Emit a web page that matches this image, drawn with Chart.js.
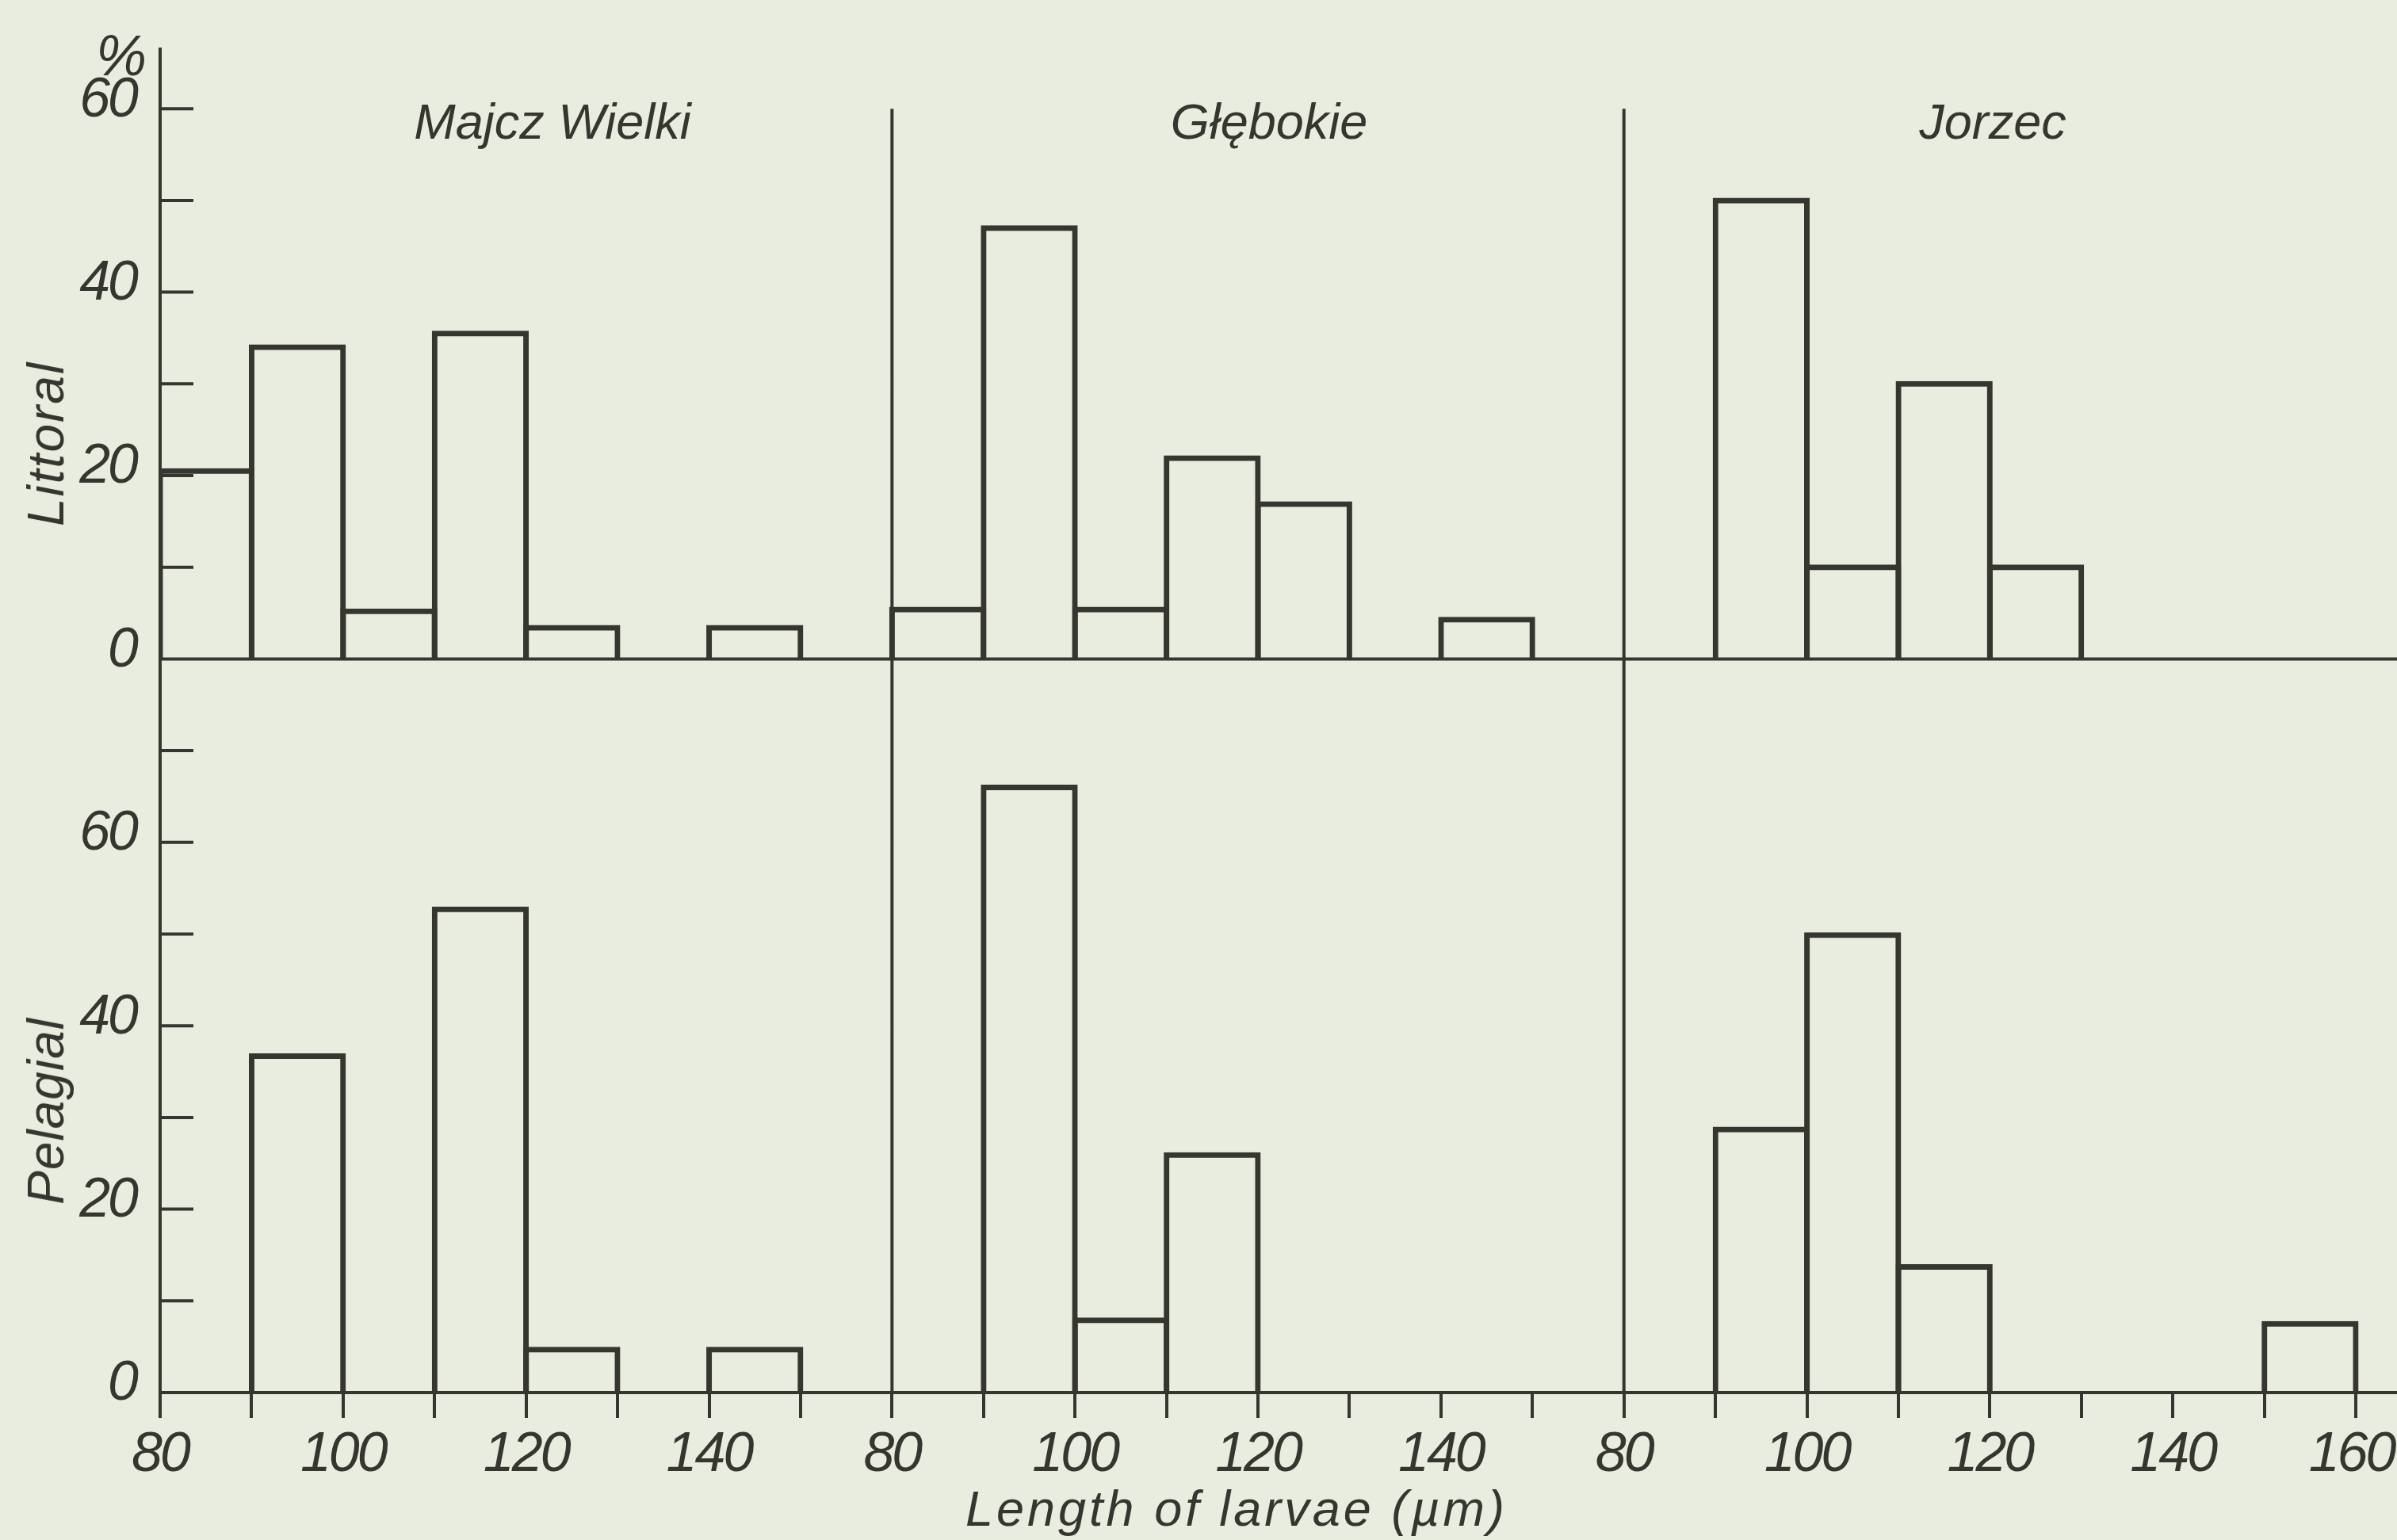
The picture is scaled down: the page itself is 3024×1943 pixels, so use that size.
<!DOCTYPE html>
<html>
<head>
<meta charset="utf-8">
<title>Length of larvae</title>
<script src="https://cdn.jsdelivr.net/npm/chart.js@4.4.1/dist/chart.umd.min.js"></script>
<style>
  html, body { margin: 0; padding: 0; background: #e9eddf; }
  #wrap { position: relative; width: 3024px; height: 1943px; overflow: hidden; }
  #larvaeChart { position: absolute; left: 0; top: 0; }
  .lbl {
    position: absolute; white-space: nowrap; line-height: 1;
    font-family: 'Liberation Sans', Arial, sans-serif; font-style: italic;
    color: #35362f;
  }
</style>
</head>
<body>
<div id="wrap">
  <canvas id="larvaeChart" width="3024" height="1943"></canvas>
  <div class="lbl" style="font-size:72px; left:153px; top:34px; transform:translateX(-50%);">%</div>
  <div class="lbl" style="font-size:63px; left:697px; top:122px; transform:translateX(-50%);">Majcz Wielki</div>
  <div class="lbl" style="font-size:63px; left:1601px; top:122px; transform:translateX(-50%);">Głębokie</div>
  <div class="lbl" style="font-size:63px; left:2514px; top:122px; transform:translateX(-50%);">Jorzec</div>
  <div class="lbl" style="font-size:64px; letter-spacing:2px; left:58px; top:560px; transform:translate(-50%,-50%) rotate(-90deg);">Littoral</div>
  <div class="lbl" style="font-size:64px; letter-spacing:1px; left:58px; top:1402px; transform:translate(-50%,-50%) rotate(-90deg);">Pelagial</div>
  <div class="lbl" style="font-size:63px; letter-spacing:4px; left:1560px; top:1872px; transform:translateX(-50%);">Length of larvae (µm)</div>
</div>

<script>
// 幼生の体長分布 (%)  -- 10 µm 階級, 80-160 µm
const binStarts = [80, 90, 100, 110, 120, 130, 140, 150];
const lakes = ['Majcz Wielki', 'Głębokie', 'Jorzec'];

const majczLittoral    = [20.8, 34.3, 5.5, 35.8, 3.7, 0, 3.7, 0];
const majczPelagial    = [0, 37, 0, 53, 5, 0, 5, 0];
const glebokieLittoral = [5.7, 47.3, 5.7, 22.2, 17.2, 0, 4.6, 0];
const glebokiePelagial = [0, 66.3, 8.2, 26.2, 0, 0, 0, 0];
const jorzecLittoral   = [0, 50.3, 10.3, 30.3, 10.3, 0, 0, 0];
const jorzecPelagial   = [0, 29, 50.2, 14, 0, 0, 0, 7.8];

const littoralByLake = [majczLittoral, glebokieLittoral, jorzecLittoral];
const pelagialByLake = [majczPelagial, glebokiePelagial, jorzecPelagial];

const ink = '#35362f';
const panelSpan = 80;   // each lake panel covers 80-160 µm on one shared x scale
const topBase = 80;     // littoral row sits above the pelagial row on the y scale

// build bar points for one row
const buildPoints = (rows, base) => {
  const pts = [];
  rows.forEach((vals, i) => {
    vals.forEach((v, j) => {
      if (!v) return;
      const x = binStarts[j] + 5 + panelSpan * i;
      pts.push({ x: x, y: base ? [base, base + v] : v });
    });
  });
  return pts;
};

// bar look (outline only, like the drawing)
const barStyle = {
  grouped: false,
  categoryPercentage: 1,
  barPercentage: 1.06,
  inflateAmount: 0,
  borderWidth: 7,
  borderColor: ink,
  backgroundColor: 'rgba(0,0,0,0)',
};

// y ticks inside the axis, panel separators and the upper baseline
const frameLines = {
  id: 'frameLines',
  beforeDraw(chart) {
    // slightly tighter digits, like the stencil lettering
    chart.ctx.letterSpacing = '-3px';
  },
  beforeDatasetsDraw(chart) {
    const { ctx, chartArea, scales } = chart;
    const x = scales.x, y = scales.y;
    ctx.save();
    ctx.strokeStyle = ink;
    ctx.lineWidth = 4;
    ctx.beginPath();
    y.ticks.forEach((t) => {
      if (t.value % topBase === 0) return;
      const py = y.getPixelForValue(t.value);
      ctx.moveTo(chartArea.left, py);
      ctx.lineTo(chartArea.left + 42, py);
    });
    const by = y.getPixelForValue(topBase);
    ctx.moveTo(chartArea.left, by);
    ctx.lineTo(chartArea.right, by);
    [1, 2].forEach((i) => {
      const px = x.getPixelForValue(80 + panelSpan * i);
      ctx.moveTo(px, y.getPixelForValue(0));
      ctx.lineTo(px, y.getPixelForValue(topBase + 60));
    });
    ctx.stroke();
    ctx.restore();
  },
  afterDraw(chart) {
    chart.ctx.letterSpacing = '0px';
  }
};

const tickFont = { family: "'Liberation Sans', Arial, sans-serif", style: 'italic', size: 70 };

new Chart(document.getElementById('larvaeChart'), {
  type: 'bar',
  data: {
    datasets: [
      Object.assign({ label: 'Littoral', data: buildPoints(littoralByLake, topBase) }, barStyle),
      Object.assign({ label: 'Pelagial', data: buildPoints(pelagialByLake, 0) }, barStyle),
    ],
  },
  options: {
    responsive: false,
    animation: false,
    devicePixelRatio: 1,
    layout: { padding: { top: 62, right: 0, bottom: 0, left: 0 } },
    plugins: {
      legend: { display: false },
      tooltip: { enabled: false },
      colors: { enabled: false },
    },
    scales: {
      x: {
        type: 'linear',
        min: 80,
        max: 324.5,
        offset: false,
        grid: { offset: false, drawOnChartArea: false, tickLength: 32, lineWidth: 4, color: ink },
        border: { color: ink, width: 4 },
        ticks: {
          stepSize: 10,
          includeBounds: false,
          autoSkip: false,
          maxRotation: 0,
          padding: 6,
          color: ink,
          font: tickFont,
          callback: (v) => {
            if (v % 20 !== 0) return '';
            // last label sits at the page edge, nudge it in a little
            if (v === 80 + panelSpan * 3) return '160\u2009';
            return String(((v - 80) % panelSpan) + 80);
          },
        },
        afterFit: (s) => { s.height = 186; s.paddingLeft = 0; s.paddingRight = 0; },
      },
      y: {
        min: 0,
        max: 146.5,
        grid: { drawOnChartArea: false, drawTicks: false },
        border: { color: ink, width: 4 },
        ticks: {
          stepSize: 10,
          includeBounds: false,
          autoSkip: false,
          padding: 30,
          labelOffset: -10,
          color: ink,
          font: tickFont,
          callback: (v) => (v % 20 !== 0 ? '' : String(v >= topBase ? v - topBase : v)),
        },
        afterFit: (s) => { s.width = 202; s.paddingTop = 0; s.paddingBottom = 0; },
      },
    },
  },
  plugins: [frameLines],
});
</script>
</body>
</html>
